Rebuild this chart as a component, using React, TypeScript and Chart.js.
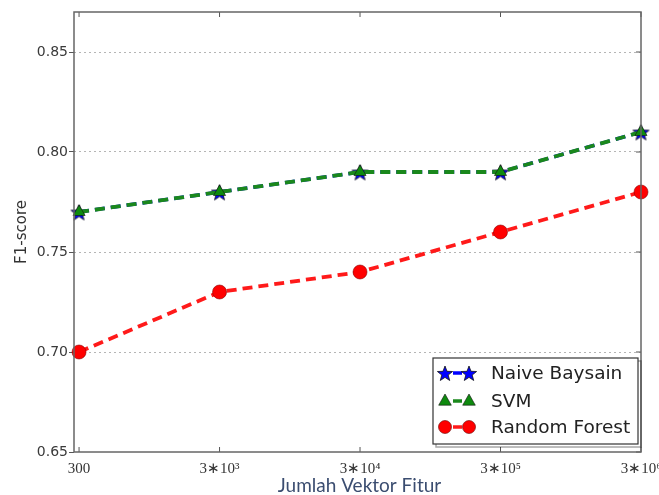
import React, { useEffect, useRef } from 'react';
import { Chart, registerables } from 'chart.js';
Chart.register(...registerables);

const categories = ['300', '3∗10³', '3∗10⁴', '3∗10⁵', '3∗10⁶'];
const naiveBayes = [0.77, 0.78, 0.79, 0.79, 0.81];
const svm = [0.77, 0.78, 0.79, 0.79, 0.81];
const randomForest = [0.70, 0.73, 0.74, 0.76, 0.78];
const yMin = 0.65;
const yMax = 0.87;
const yStep = 0.05;
const xMin = -0.036;
const xMax = 4;
const yTitle = 'F1-score';
const xTitle = 'Jumlah Vektor Fitur';

const toPoints = (arr: number[]) => arr.map((y, i) => ({ x: i, y }));

function makeStar(color: string, r: number): HTMLCanvasElement {
  const c = document.createElement('canvas');
  const s = Math.ceil(r * 2 + 4);
  c.width = s; c.height = s;
  const ctx = c.getContext('2d')!;
  ctx.translate(s / 2, s / 2 + 1);
  ctx.beginPath();
  for (let i = 0; i < 10; i++) {
    const rad = i % 2 === 0 ? r : r * 0.42;
    const a = -Math.PI / 2 + (i * Math.PI) / 5;
    const x = rad * Math.cos(a), y = rad * Math.sin(a);
    if (i === 0) ctx.moveTo(x, y); else ctx.lineTo(x, y);
  }
  ctx.closePath();
  ctx.fillStyle = color; ctx.fill();
  ctx.strokeStyle = '#111'; ctx.lineWidth = 0.8; ctx.stroke();
  return c;
}

function drawMarker(ctx: CanvasRenderingContext2D, type: string, x: number, y: number, color: string, star: HTMLCanvasElement) {
  ctx.save();
  if (type === 'star') {
    ctx.drawImage(star, x - star.width / 2, y - star.height / 2);
  } else if (type === 'triangle') {
    const r = 7;
    ctx.beginPath();
    ctx.moveTo(x, y - r);
    ctx.lineTo(x + r * 0.9, y + r * 0.6);
    ctx.lineTo(x - r * 0.9, y + r * 0.6);
    ctx.closePath();
    ctx.fillStyle = color; ctx.fill();
    ctx.strokeStyle = '#111'; ctx.lineWidth = 0.6; ctx.stroke();
  } else {
    ctx.beginPath();
    ctx.arc(x, y, 6.5, 0, Math.PI * 2);
    ctx.fillStyle = color; ctx.fill();
    ctx.strokeStyle = '#600'; ctx.lineWidth = 0.6; ctx.stroke();
  }
  ctx.restore();
}

export default function App() {
  const ref = useRef<HTMLCanvasElement>(null);
  useEffect(() => {
    document.body.style.margin = '0';
    const star = makeStar('#0000ff', 8.5);
    const legendStar = makeStar('#0000ff', 8);
    const markerTypes = ['star', 'triangle', 'circle'];

    const framePlugin = {
      id: 'frame',
      afterDraw(chart: any) {
        const { ctx, chartArea: a, scales } = chart;
        ctx.save();
        ctx.strokeStyle = '#555';
        ctx.lineWidth = 1;
        const xs = scales.x;
        for (let i = 0; i < categories.length; i++) {
          const px = xs.getPixelForValue(i);
          ctx.beginPath();
          ctx.moveTo(px, a.bottom); ctx.lineTo(px, a.bottom - 5);
          ctx.moveTo(px, a.top); ctx.lineTo(px, a.top + 5);
          ctx.stroke();
        }
        const ys = scales.y;
        for (let v = yMin; v <= yMax + 1e-9; v += yStep) {
          const py = ys.getPixelForValue(v);
          ctx.beginPath();
          ctx.moveTo(a.right, py); ctx.lineTo(a.right - 5, py);
          ctx.stroke();
        }
        ctx.strokeStyle = '#666';
        ctx.lineWidth = 1.5;
        ctx.strokeRect(a.left, a.top, a.right - a.left, a.bottom - a.top);

        // x title
        ctx.fillStyle = '#3b4d70';
        ctx.font = '19px Lato';
        ctx.textAlign = 'center';
        ctx.textBaseline = 'alphabetic';
        ctx.fillText(xTitle, (a.left + a.right) / 2 + 2, 492);

        // legend
        const lx = 433, ly = 358, lw = 205, lh = 86;
        ctx.strokeStyle = 'rgba(0,0,0,0.35)';
        ctx.lineWidth = 1.5;
        ctx.strokeRect(lx + 3, ly + 3, lw, lh);
        ctx.fillStyle = '#fff';
        ctx.fillRect(lx, ly, lw, lh);
        ctx.strokeStyle = '#333';
        ctx.lineWidth = 1.2;
        ctx.strokeRect(lx, ly, lw, lh);
        const rows = [373, 401, 427];
        chart.data.datasets.forEach((ds: any, i: number) => {
          const y = rows[i];
          ctx.strokeStyle = ds.borderColor;
          ctx.lineWidth = 3.5;
          ctx.beginPath();
          ctx.moveTo(453, y); ctx.lineTo(462, y);
          ctx.stroke();
          drawMarker(ctx, markerTypes[i], 445, y, ds.pointBackgroundColor, legendStar);
          drawMarker(ctx, markerTypes[i], 469, y, ds.pointBackgroundColor, legendStar);
          ctx.fillStyle = '#222';
          ctx.font = '18.5px "DejaVu Sans"';
          ctx.textAlign = 'left';
          ctx.textBaseline = 'middle';
          ctx.fillText(ds.label, 491, y + 1);
        });
        ctx.restore();
      },
    };

    const chart = new Chart(ref.current!, {
      type: 'line',
      data: {
        datasets: [
          {
            label: 'Naive Baysain',
            data: toPoints(naiveBayes),
            borderColor: '#0000ff',
            pointBackgroundColor: '#0000ff',
            borderWidth: 3.5,
            borderDash: [10, 6],
            pointStyle: star,
            pointRadius: 8,
            order: 2,
            clip: false,
          },
          {
            label: 'SVM',
            data: toPoints(svm),
            borderColor: '#1a881c',
            pointBackgroundColor: '#0e8a0e',
            pointBorderColor: '#111',
            pointBorderWidth: 0.6,
            borderWidth: 3.8,
            borderDash: [10, 6],
            pointStyle: 'triangle',
            pointRadius: 7,
            order: 1,
            clip: false,
          },
          {
            label: 'Random Forest',
            data: toPoints(randomForest),
            borderColor: '#ff1a1a',
            pointBackgroundColor: '#ff0000',
            pointBorderColor: '#800',
            pointBorderWidth: 0.6,
            borderWidth: 3.8,
            borderDash: [10, 6],
            pointStyle: 'circle',
            pointRadius: 7,
            order: 0,
            clip: false,
          },
        ],
      },
      options: {
        animation: false,
        responsive: false,
        layout: { padding: { top: 12, right: 18, left: 0, bottom: 0 } },
        plugins: { legend: { display: false }, tooltip: { enabled: false } },
        scales: {
          x: {
            type: 'linear',
            min: xMin,
            max: xMax,
            grid: { display: false },
            border: { display: false },
            ticks: {
              stepSize: 1,
              includeBounds: false,
              color: '#333',
              font: { family: '"Liberation Serif"', size: 15 },
              padding: 0,
              maxRotation: 0,
              autoSkip: false,
              callback: (v: any) => {
                const i = Math.round(Number(v));
                return Math.abs(Number(v) - i) < 1e-6 ? categories[i] : '';
              },
            },
            afterFit(scale: any) {
              scale.height = 43;
              scale.paddingLeft = 0;
              scale.paddingRight = 0;
            },
          },
          y: {
            min: yMin,
            max: yMax,
            grid: {
              color: (c: any) => (Math.abs(c.tick.value - yMin) < 1e-6 ? 'rgba(0,0,0,0)' : '#b5b5b5'),
              tickColor: '#555',
              tickLength: 5,
              lineWidth: 1,
            },
            border: { display: false, dash: [2, 3] },
            ticks: {
              stepSize: yStep,
              includeBounds: false,
              color: '#3a3a3a',
              font: { family: '"DejaVu Sans"', size: 14 },
              padding: 1,
              callback: (v: any) => Number(v).toFixed(2),
            },
            title: {
              display: true,
              text: yTitle,
              color: '#333',
              font: { family: '"DejaVu Sans"', size: 15 },
              padding: { top: 13, bottom: 0 },
            },
            afterFit(scale: any) {
              scale.width = 74;
              scale.paddingTop = 0;
              scale.paddingBottom = 0;
            },
          },
        },
      },
      plugins: [framePlugin],
    });
    return () => chart.destroy();
  }, []);
  return (
    <div style={{ width: 659, height: 495 }}>
      <canvas ref={ref} width={659} height={495} style={{ display: 'block' }} />
    </div>
  );
}
